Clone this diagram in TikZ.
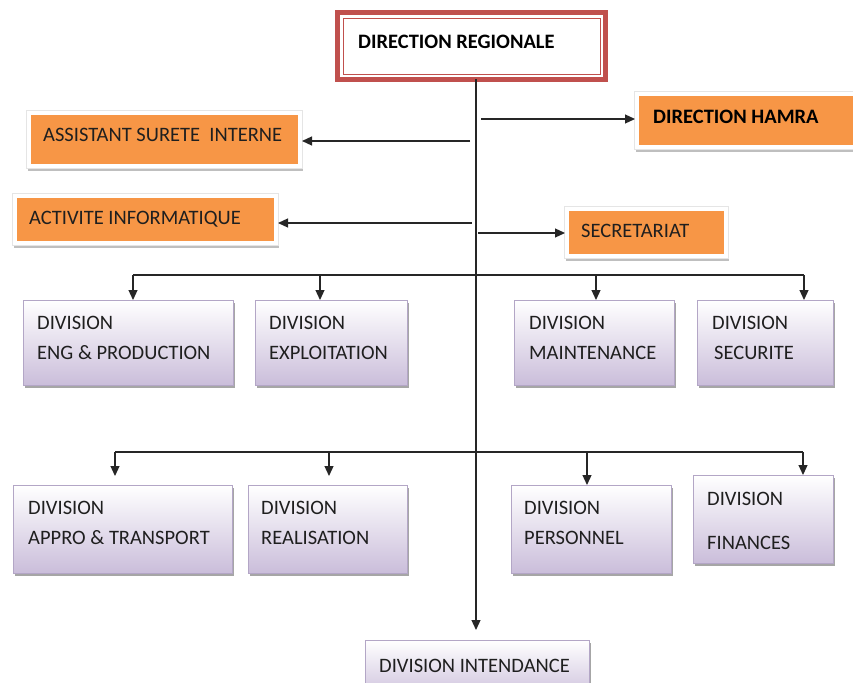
\documentclass[tikz,border=0pt]{standalone}
\usepackage{fontspec}
\setmainfont{Carlito}
\usetikzlibrary{arrows.meta}
\definecolor{orng}{HTML}{F79646}
\definecolor{redd}{HTML}{C0504D}
\definecolor{purp}{HTML}{CABDDA}
\definecolor{purpline}{HTML}{B3A6C6}
\begin{document}
\begin{tikzpicture}[x=1pt,y=-1pt,
  every node/.style={font=\fontsize{20.5}{24}\selectfont},
  arr/.style={draw=black!85, line width=1.2pt, -{Triangle[length=10pt,width=9pt]}},
  ln/.style={draw=black!85, line width=1.2pt},
  drbox/.style={anchor=north west, fill=white, draw=redd, line width=5pt, inner sep=0, outer sep=0},
  obox/.style={anchor=north west, fill=orng, draw=white, line width=4pt, inner sep=0,
     preaction={draw=black!25, fill=black!25, line width=4pt, transform canvas={shift={(0.8pt,-3pt)}}},
     preaction={draw=black!10, line width=6.5pt}},
  pbox/.style={anchor=north west, inner sep=0, draw=purpline, line width=0.8pt,
     top color=white, bottom color=purp,
     preaction={fill=black!35, transform canvas={shift={(1.5pt,-3pt)}}}},
  txt/.style={anchor=west, inner sep=0, text height=13.2pt, text depth=0pt, text=black!88},
  btxt/.style={txt, font=\fontsize{20.5}{24}\selectfont\bfseries, text=black},
]
\useasboundingbox (0,0) rectangle (853,682);

% top box
\node[drbox, minimum width=268pt, minimum height=67pt] (dr) at (337.5,12.5) {};
\draw[redd, line width=0.9pt] ([shift={(5.5pt,-5.5pt)}]dr.north west) rectangle ([shift={(-5.5pt,5.5pt)}]dr.south east);
\node[btxt] (drt) at (358,42) {DIRECTION REGIONALE};

% orange boxes
\node[obox, minimum width=271pt, minimum height=53pt] (asi) at (27,111) {};
\node[txt] (asit) at (43,135) {ASSISTANT SURETE~ INTERNE};
\node[obox, minimum width=230pt, minimum height=53pt] (ham) at (635,92) {};
\node[btxt] (hamt) at (653,117) {DIRECTION HAMRA};
\node[obox, minimum width=261pt, minimum height=47pt] (ai) at (13,194) {};
\node[txt] (ait) at (29,218) {ACTIVITE INFORMATIQUE};
\node[obox, minimum width=159pt, minimum height=47pt] (sec) at (565,207) {};
\node[txt] (sect) at (581,231) {SECRETARIAT};

% division boxes row 1
\node[pbox, minimum width=210pt, minimum height=85pt] (eng) at (23,300) {};
\node[txt] (eng1) at (37,323) {DIVISION};
\node[txt] (eng2) at (37,353) {ENG \& PRODUCTION};
\node[pbox, minimum width=152pt, minimum height=85pt] (expl) at (255,300) {};
\node[txt] (expl1) at (269,323) {DIVISION};
\node[txt] (expl2) at (269,353) {EXPLOITATION};
\node[pbox, minimum width=160pt, minimum height=85pt] (mnt) at (514,300) {};
\node[txt] (mnt1) at (529,323) {DIVISION};
\node[txt] (mnt2) at (529,353) {MAINTENANCE};
\node[pbox, minimum width=136pt, minimum height=85pt] (secu) at (697,300) {};
\node[txt] (secu1) at (712,323) {DIVISION};
\node[txt] (secu2) at (714,353) {SECURITE};

% division boxes row 2
\node[pbox, minimum width=219pt, minimum height=88pt] (app) at (13,485) {};
\node[txt] (app1) at (28,508) {DIVISION};
\node[txt] (app2) at (28,538) {APPRO \& TRANSPORT};
\node[pbox, minimum width=159pt, minimum height=88pt] (real) at (248,485) {};
\node[txt] (real1) at (261,508) {DIVISION};
\node[txt] (real2) at (261,538) {REALISATION};
\node[pbox, minimum width=160pt, minimum height=88pt] (pers) at (511,485) {};
\node[txt] (pers1) at (524,508) {DIVISION};
\node[txt] (pers2) at (524,538) {PERSONNEL};
\node[pbox, minimum width=140pt, minimum height=88pt] (fin) at (693,475) {};
\node[txt] (fin1) at (707,499) {DIVISION};
\node[txt] (fin2) at (707,543) {FINANCES};

% intendance
\node[pbox, minimum width=224pt, minimum height=60pt] (int) at (365,640) {};
\node[txt] (intt) at (379,666) {DIVISION INTENDANCE};

% connectors
\coordinate (tx) at (476,0);
\draw[arr] (tx |- dr.south) -- ([yshift=10pt]tx |- int.north);

\coordinate (la) at (470,141);
\draw[arr] (la) -- (la -| asi.east);
\coordinate (lh) at (481,119);
\draw[arr] (lh) -- (lh -| ham.west);
\coordinate (lai) at (472,223);
\draw[arr] (lai) -- (lai -| ai.east);
\coordinate (ls) at (478,233);
\draw[arr] (ls) -- (ls -| sec.west);

% row 1 bus
\coordinate (b1) at (0,275);
\coordinate (e1) at (133,0);
\coordinate (e2) at (320,0);
\coordinate (e3) at (596,0);
\coordinate (e4) at (804,0);
\draw[ln] (e1 |- b1) -- (e4 |- b1);
\draw[arr] (e1 |- b1) -- (e1 |- eng.north);
\draw[arr] (e2 |- b1) -- (e2 |- expl.north);
\draw[arr] (e3 |- b1) -- (e3 |- mnt.north);
\draw[arr] (e4 |- b1) -- (e4 |- secu.north);

% row 2 bus
\coordinate (b2) at (0,452);
\coordinate (f1) at (115,0);
\coordinate (f2) at (329,0);
\coordinate (f3) at (587,0);
\coordinate (f4) at (803,0);
\draw[ln] (f1 |- b2) -- (f4 |- b2);
\draw[arr] (f1 |- b2) -- ([yshift=9pt]f1 |- app.north);
\draw[arr] (f2 |- b2) -- ([yshift=9pt]f2 |- real.north);
\draw[arr] (f3 |- b2) -- (f3 |- pers.north);
\draw[arr] (f4 |- b2) -- (f4 |- fin.north);
\end{tikzpicture}
\end{document}
